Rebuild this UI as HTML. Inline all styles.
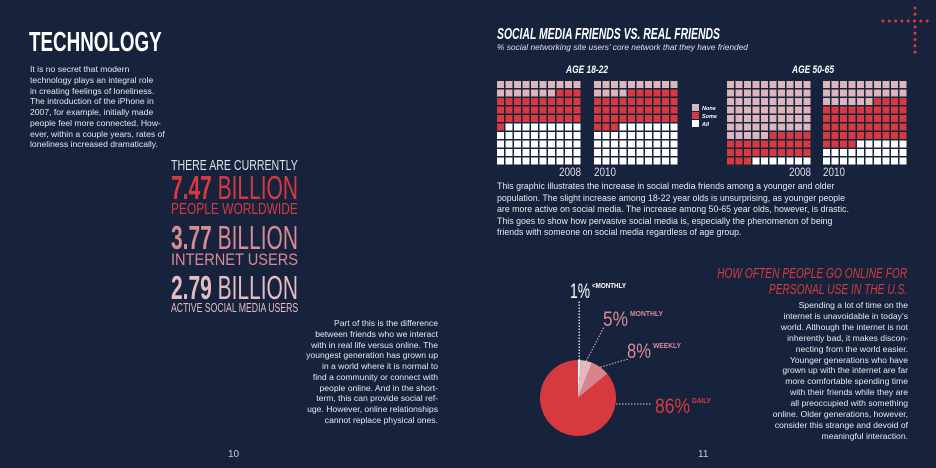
<!DOCTYPE html>
<html><head><meta charset="utf-8">
<style>
*{margin:0;padding:0;box-sizing:border-box}
body{width:936px;height:468px;background:#17233d;position:relative;overflow:hidden;font-family:"Liberation Sans",sans-serif;color:#fff}
.a{position:absolute;white-space:nowrap}
.fit{transform-origin:left top}
.fitr{transform-origin:right top}
.p{font-size:8.6px;line-height:10.75px;color:#e8e8ee}
</style></head><body>
<div class="a fit" data-w="133" style="left:29px;top:26px;font-size:28px;font-weight:bold">TECHNOLOGY</div>
<div class="a p" style="left:30px;top:64px">It is no secret that modern<br>technology plays an integral role<br>in creating feelings of loneliness.<br>The introduction of the iPhone in<br>2007, for example, initially made<br>people feel more connected. How-<br>ever, within a couple years, rates of<br>loneliness increased dramatically.</div>

<div class="a fit" data-w="127" style="left:171px;top:157px;font-size:15px;color:#e0e0e8">THERE ARE CURRENTLY</div>
<div class="a fit" data-w="127" style="left:171px;top:170px;font-size:33px;color:#d63a3e;line-height:36px"><b>7.47</b> BILLION</div>
<div class="a fit" data-w="127" style="left:171px;top:201px;font-size:16px;color:#d63a3e">PEOPLE WORLDWIDE</div>
<div class="a fit" data-w="127" style="left:171px;top:220px;font-size:33px;color:#d98b93;line-height:36px"><b>3.77</b> BILLION</div>
<div class="a fit" data-w="127" style="left:171px;top:250px;font-size:17px;color:#d98b93">INTERNET USERS</div>
<div class="a fit" data-w="127" style="left:171px;top:270px;font-size:33px;color:#e6bcc3;line-height:36px"><b>2.79</b> BILLION</div>
<div class="a fit" data-w="127" style="left:171px;top:300px;font-size:13px;color:#e6bcc3">ACTIVE SOCIAL MEDIA USERS</div>

<div class="a p" style="right:498px;top:318px;text-align:right">Part of this is the difference<br>between friends who we interact<br>with in real life versus online. The<br>youngest generation has grown up<br>in a world where it is normal to<br>find a community or connect with<br>people online. And in the short-<br>term, this can provide social ref-<br>uge. However, online relationships<br>cannot replace physical ones.</div>
<div class="a" style="left:228px;top:449px;font-size:10px;color:#ccc">10</div>
<div class="a" style="left:698px;top:449px;font-size:10px;color:#ccc">11</div>

<div class="a fit" data-w="223" style="left:497px;top:26px;font-size:16px;font-weight:bold;font-style:italic">SOCIAL MEDIA FRIENDS VS. REAL FRIENDS</div>
<div class="a fit" data-w="251" style="left:497px;top:42px;font-size:8.6px;font-style:italic;color:#e0e0e8">% social networking site users’ core network that they have friended</div>

<svg class="a" id="waffles" style="left:0;top:0" width="936" height="180"></svg>

<div class="a p" style="left:497px;top:181px;font-size:8.8px;line-height:11.5px">This graphic illustrates the increase in social media friends among a younger and older<br>population. The slight increase among 18-22 year olds is unsurprising, as younger people<br>are more active on social media. The increase among 50-65 year olds, however, is drastic.<br>This goes to show how pervasive social media is, especially the phenomenon of being<br>friends with someone on social media regardless of age group.</div>

<div class="a fitr" data-w="190" style="right:29px;top:266px;font-size:15px;font-style:italic;color:#d63a3e;text-align:right;line-height:16px">HOW OFTEN PEOPLE GO ONLINE FOR<br>PERSONAL USE IN THE U.S.</div>
<div class="a p" style="right:28px;top:300px;text-align:right;line-height:10.9px">Spending a lot of time on the<br>internet is unavoidable in today’s<br>world. Although the internet is not<br>inherently bad, it makes discon-<br>necting from the world easier.<br>Younger generations who have<br>grown up with the internet are far<br>more comfortable spending time<br>with their friends while they are<br>all preoccupied with something<br>online. Older generations, however,<br>consider this strange and devoid of<br>meaningful interaction.</div>

<svg class="a" id="pie" style="left:0;top:0" width="936" height="468"></svg>

<svg class="a" id="cross" style="left:0;top:0" width="936" height="60"></svg>

<script>
// Waffle data (number of cells out of 100)
const groups = ["AGE 18-22", "AGE 50-65"];
const years = ["2008", "2010"];
const noneVals = [17, 14, 65, 26];
const someVals = [34, 39, 28, 48];
const allVals = [49, 47, 7, 26];
const legendLabels = ["None", "Some", "All"];

// Pie data
const pieLabels = ["<MONTHLY", "MONTHLY", "WEEKLY", "DAILY"];
const pieValues = [1, 5, 8, 86];

document.querySelectorAll('.fit,.fitr').forEach(el => {
  const w = parseFloat(el.getAttribute('data-w'));
  el.style.transform = 'scaleX(' + (w / el.offsetWidth) + ')';
});

const NS = "http://www.w3.org/2000/svg";
function mk(tag, attrs, parent){const e=document.createElementNS(NS,tag);for(const k in attrs)e.setAttribute(k,attrs[k]);parent.appendChild(e);return e;}
const colors = ["#dcb4bc", "#d63a3e", "#ffffff"];

const W = document.getElementById("waffles");
const gridX = [497, 594, 727, 823];
const gridTop = 81, pitch = 8.5, cell = 7;
for (let g = 0; g < 4; g++) {
  const counts = [noneVals[g], someVals[g], allVals[g]];
  let idx = 0;
  for (let c = 0; c < 3; c++) {
    for (let k = 0; k < counts[c] && idx < 100; k++, idx++) {
      const r = mk("rect", {x: gridX[g] + (idx % 10) * pitch, y: gridTop + Math.floor(idx / 10) * pitch, width: cell, height: cell, fill: colors[c]}, W);
      
      
    }
  }
  const right = g % 2 === 0;
  const t = mk("text", {x: right ? gridX[g] + 84 : gridX[g], y: 176, "font-size": 12, fill: "#dde", "text-anchor": right ? "end" : "start", textLength: 22, lengthAdjust: "spacingAndGlyphs"}, W);
  t.textContent = years[g % 2];
  
  
}
const groupCx = [587, 813];
for (let i = 0; i < groups.length; i++) {
  const t = mk("text", {x: groupCx[i] - 21, y: 73, "font-size": 11, "font-weight": "bold", "font-style": "italic", fill: "#fff", textLength: 42, lengthAdjust: "spacingAndGlyphs"}, W);
  t.textContent = groups[i];
  
  
}
for (let i = 0; i < legendLabels.length; i++) {
  const r = mk("rect", {x: 692, y: 104 + i * 8, width: 7, height: 7, fill: colors[i]}, W);
  
  
  const t = mk("text", {x: 702, y: 110 + i * 8, "font-size": 5.5, "font-style": "italic", "font-weight": "bold", fill: "#fff"}, W);
  t.textContent = legendLabels[i];
  
  
}

// Pie
const P = document.getElementById("pie");
const cx = 578, cy = 398, R = 38;
const pieColors = ["#ffffff", "#e3b9c0", "#d8848b", "#d63a3e"];
const labelPos = [[570, 298, 20, "#fff"], [603, 326, 25, "#d98b93"], [627, 358, 24, "#d98b93"], [655, 413, 35, "#d63a3e"]];
const catW = [34, 33, 28, 19];
const total = pieValues.reduce((a, b) => a + b, 0);
let acc = 0;
for (let i = 0; i < pieValues.length; i++) {
  const a0 = acc / total * 2 * Math.PI; acc += pieValues[i];
  const a1 = acc / total * 2 * Math.PI;
  const x0 = cx + R * Math.sin(a0), y0 = cy - R * Math.cos(a0);
  const x1 = cx + R * Math.sin(a1), y1 = cy - R * Math.cos(a1);
  const large = (a1 - a0) > Math.PI ? 1 : 0;
  const s = mk("path", {d: `M${cx},${cy}L${x0},${y0}A${R},${R} 0 ${large} 1 ${x1},${y1}Z`, fill: pieColors[i]}, P);
  
  
  const mid = (a0 + a1) / 2;
  const ex = cx + R * Math.sin(mid), ey = cy - R * Math.cos(mid);
  const lp = labelPos[i];
  let lx, ly;
  if (i === 0) { lx = ex; ly = 300; } else if (i === 3) { lx = 652; ly = 404; } else { lx = lp[0] + 1; ly = lp[1] + 1; }
  const ln = mk("line", {x1: i === 3 ? cx + R : ex, y1: i === 3 ? 404 : ey, x2: lx, y2: ly, stroke: i === 0 ? "#fff" : "#c9a0a8", "stroke-width": 1.2, "stroke-dasharray": "1.5 1.5"}, P);
  
  
  const v = mk("text", {x: lp[0], y: lp[1], "font-size": 21, fill: lp[3], textLength: lp[2], lengthAdjust: "spacingAndGlyphs"}, P);
  v.textContent = pieValues[i] + "%";
  
  
  const c = mk("text", {x: lp[0] + lp[2] + 2, y: lp[1] - 10, "font-size": 7, "font-weight": "bold", fill: lp[3], textLength: catW[i], lengthAdjust: "spacingAndGlyphs"}, P);
  c.textContent = pieLabels[i];
  
  
}

// Crosshair decoration
const C = document.getElementById("cross");
for (let i = 0; i < 8; i++) { const d = mk("circle", {cx: 883 + i * 6.3, cy: 21, r: 1.5, fill: "#d63a3e"}, C);   }
for (let i = 0; i < 8; i++) { if (i === 2) continue; const d = mk("circle", {cx: 915, cy: 8 + i * 6.3, r: 1.5, fill: "#d63a3e"}, C);   }
</script>
</body></html>
